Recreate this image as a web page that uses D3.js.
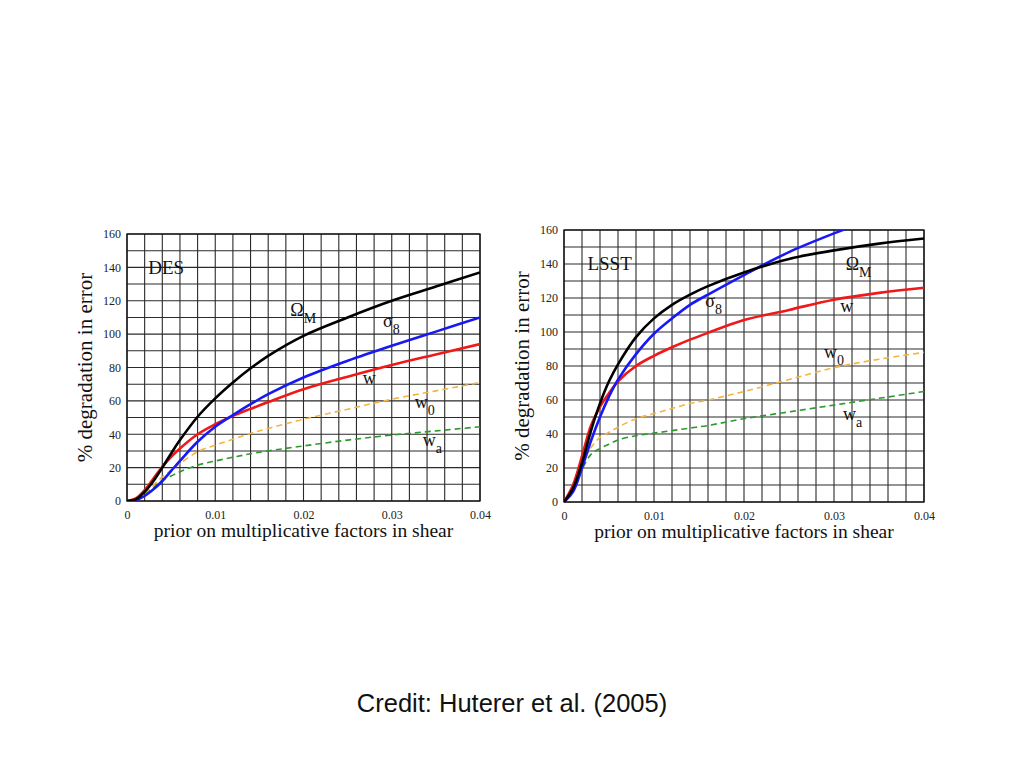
<!DOCTYPE html>
<html>
<head>
<meta charset="utf-8">
<script src="https://cdn.jsdelivr.net/npm/d3@7"></script>
<style>
  body { margin: 0; background: #fff; }
  svg text { font-family: "Liberation Serif", "Times New Roman", serif; }
</style>
</head>
<body>
<div id="chart"></div>
<script>
// x values (prior on multiplicative factors in shear)
const xs = [0, 0.001, 0.002, 0.003, 0.004, 0.005, 0.006, 0.008, 0.010, 0.012, 0.014, 0.016, 0.020, 0.025, 0.030, 0.035, 0.040]

const desOmegaM = [0, 1, 5.5, 12, 20, 28.5, 36.5, 50.5, 61.5, 71, 79.5, 87, 99, 110, 120, 128.5, 137]
const desSigma8 = [0, 0.5, 3, 7, 12, 18, 24, 35.5, 44.5, 51.5, 58, 64, 74, 84, 93, 101.5, 110]
const desW = [0, 1.5, 6.5, 13.5, 20.5, 26.5, 31.5, 40, 46, 51, 55.2, 59.3, 67, 74.5, 81.5, 87.8, 94]
const desW0 = [0, 1, 5, 9.5, 14.5, 18.5, 22.5, 29.5, 33.5, 37, 40.5, 43.5, 49, 55, 61, 66, 71]
const desWa = [0, 1, 4, 8, 12.5, 15, 17.5, 21.5, 24, 26.2, 28.3, 30, 33, 36.5, 39.5, 42, 44.5]

const lsstOmegaM = [0, 8, 23, 42, 58, 71, 81, 97, 108, 116, 122, 127, 135, 143, 148, 152, 155]
const lsstSigma8 = [0, 6, 20, 36, 50, 62, 72, 87, 99, 108, 116, 122, 133.5, 147, 158, 168, 178]
const lsstW = [0, 10, 27, 45, 56, 64, 71, 80, 86, 91, 95.5, 99.5, 107, 113, 119, 123, 126]
const lsstW0 = [0, 8, 21, 32, 38, 41, 44, 49, 52, 55, 58, 60, 65, 72, 79, 84, 88]
const lsstWa = [0, 7, 19, 28, 31.5, 34, 36.5, 39, 40.5, 42, 43.5, 45, 49, 53, 57, 61, 65]

const xTicks = [0, 0.01, 0.02, 0.03, 0.04]
const xTickLabels = ["0", "0.01", "0.02", "0.03", "0.04"]
const yTicks = [0, 20, 40, 60, 80, 100, 120, 140, 160]

const seriesColors = ["#000000", "#1818f5", "#f01818", "#f5b53c", "#2e9a2e"]
const seriesDashed = [false, false, false, true, true]
const seriesMain = ["Ω", "σ", "w", "w", "w"]
const seriesSub = ["M", "8", "", "0", "a"]

// label anchors in data units: [x, y]
const desLabelPos = [[0.0185, 111], [0.029, 104], [0.0267, 70], [0.0326, 56], [0.0335, 33]]
const lsstLabelPos = [[0.0313, 136.5], [0.0157, 115], [0.0307, 112], [0.0289, 85], [0.031, 48]]

const W = 1024, H = 768
const svg = d3.select("#chart").append("svg").attr("width", W).attr("height", H)

function panel(opts) {
  const x = d3.scaleLinear().domain([0, 0.04]).range([opts.left, opts.right])
  const y = d3.scaleLinear().domain([0, 160]).range([opts.bottom, opts.top])
  const g = svg.append("g")

  const clipId = "clip-" + opts.name
  g.append("clipPath").attr("id", clipId).append("rect")
    .attr("x", opts.left).attr("y", opts.top)
    .attr("width", opts.right - opts.left).attr("height", opts.bottom - opts.top)

  // grid
  const gx = d3.range(0, 0.04 + 1e-9, 0.002)
  const gy = d3.range(0, 161, 10)
  g.selectAll(".vg").data(gx).enter().append("line")
    .attr("x1", d => x(d)).attr("x2", d => x(d))
    .attr("y1", opts.top).attr("y2", opts.bottom)
    .attr("stroke", "#2a2a2a").attr("stroke-width", 1.1)
  g.selectAll(".hg").data(gy).enter().append("line")
    .attr("y1", d => y(d)).attr("y2", d => y(d))
    .attr("x1", opts.left).attr("x2", opts.right)
    .attr("stroke", "#2a2a2a").attr("stroke-width", 1.1)
  g.append("rect")
    .attr("x", opts.left).attr("y", opts.top)
    .attr("width", opts.right - opts.left).attr("height", opts.bottom - opts.top)
    .attr("fill", "none").attr("stroke", "#111").attr("stroke-width", 1.3)

  // axes
  const xAxis = d3.axisBottom(x).tickValues(xTicks).tickSize(0).tickPadding(9)
    .tickFormat((d, i) => xTickLabels[i])
  const ax = g.append("g").attr("transform", "translate(0," + opts.bottom + ")").call(xAxis)
  ax.select(".domain").remove()
  ax.selectAll("text").style("font-size", "12px").attr("fill", "#222")
    .style("font-family", "'Liberation Serif', serif")

  const yAxis = d3.axisLeft(y).tickValues(yTicks).tickSize(0).tickPadding(6)
  const ay = g.append("g").attr("transform", "translate(" + opts.left + ",0)").call(yAxis)
  ay.select(".domain").remove()
  ay.selectAll("text").style("font-size", "12px").attr("fill", "#222")
    .style("font-family", "'Liberation Serif', serif")

  // curves
  const line = d3.line().curve(d3.curveCatmullRom.alpha(0.5))
  const curves = g.append("g").attr("clip-path", "url(#" + clipId + ")")
  const order = [4, 3, 2, 1, 0]
  order.forEach(i => {
    const pts = opts.xs.map((xv, j) => [x(xv), y(opts.series[i][j])])
    curves.append("path")
      .attr("d", line(pts))
      .attr("fill", "none")
      .attr("stroke", seriesColors[i])
      .attr("stroke-width", seriesDashed[i] ? 1.6 : 2.6)
      .attr("stroke-dasharray", seriesDashed[i] ? "6,4" : null)
  })

  // curve labels
  opts.labels.forEach((p, i) => {
    const t = g.append("text")
      .attr("x", x(p[0])).attr("y", y(p[1]))
      .style("font-size", "18px").attr("fill", "#111")
      .text(seriesMain[i])
    if (seriesSub[i]) {
      t.append("tspan").attr("dy", 7).style("font-size", "14px").text(seriesSub[i])
    }
  })

  // survey name
  g.append("text")
    .attr("x", x(opts.titlePos[0])).attr("y", y(opts.titlePos[1]))
    .style("font-size", "19px").attr("fill", "#111")
    .text(opts.name)

  // axis titles
  g.append("text")
    .attr("x", (opts.left + opts.right) / 2).attr("y", opts.bottom + 36)
    .attr("text-anchor", "middle")
    .style("font-size", "19.5px").attr("fill", "#111")
    .text("prior on multiplicative factors in shear")
  g.append("text")
    .attr("transform", "translate(" + (opts.left - 35) + "," + ((opts.top + opts.bottom) / 2) + ") rotate(-90)")
    .attr("text-anchor", "middle")
    .style("font-size", "21px").attr("fill", "#111")
    .text("% degradation in error")
}

panel({
  name: "DES", left: 127, right: 480, top: 234, bottom: 501,
  xs: xs, series: [desOmegaM, desSigma8, desW, desW0, desWa],
  labels: desLabelPos, titlePos: [0.0024, 136]
})
panel({
  name: "LSST", left: 564, right: 924, top: 230, bottom: 502,
  xs: xs, series: [lsstOmegaM, lsstSigma8, lsstW, lsstW0, lsstWa],
  labels: lsstLabelPos, titlePos: [0.0026, 136.5]
})

svg.append("text")
  .attr("x", 512).attr("y", 712)
  .attr("text-anchor", "middle")
  .style("font-family", "'Liberation Sans', Arial, sans-serif")
  .style("font-size", "25.5px").attr("fill", "#111")
  .text("Credit: Huterer et al. (2005)")
</script>
</body>
</html>
